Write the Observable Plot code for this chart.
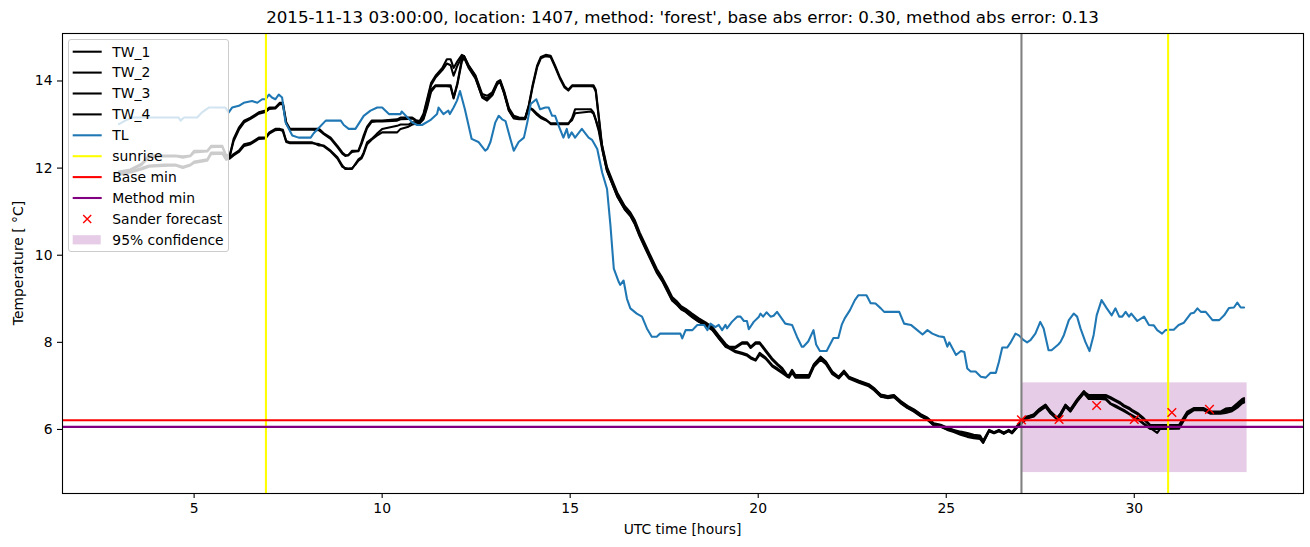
<!DOCTYPE html>
<html><head><meta charset="utf-8">
<script src="https://cdn.jsdelivr.net/npm/d3@7"></script>
<script src="https://cdn.jsdelivr.net/npm/@observablehq/plot@0.6"></script>
<style>
body{margin:0;background:#fff;}
#fig{position:relative;width:1310px;height:547px;font-family:"DejaVu Sans",sans-serif;color:#000;}
#title{position:absolute;left:62px;width:1241px;top:7px;line-height:20px;text-align:center;font-size:16.7px;white-space:nowrap;}
#xlabel{position:absolute;left:62px;width:1241px;top:520px;line-height:18px;text-align:center;font-size:13.9px;}
#ylabel{position:absolute;left:18px;top:263px;transform:translate(-50%,-50%) rotate(-90deg);font-size:13.9px;white-space:nowrap;}
#legend{position:absolute;left:68px;top:39px;width:161px;height:213px;box-sizing:border-box;border:1px solid #cccccc;border-radius:3px;background:rgba(255,255,255,0.8);}
#legend svg{position:absolute;left:0;top:0;}
</style></head>
<body><div id="fig"></div>
<script>
// ---------- data ----------
const title = "2015-11-13 03:00:00, location: 1407, method: 'forest', base abs error: 0.30, method abs error: 0.13";
const x_label = "UTC time [hours]";
const y_label = "Temperature [ °C]";
const x_ticks = [5, 10, 15, 20, 25, 30];
const y_ticks = [6, 8, 10, 12, 14];

const tw_t = [
3.0,3.3,3.6,3.8,4.2,4.5,4.7,4.9,5.0,5.35,
5.45,5.75,5.85,5.95,6.05,6.19,6.33,6.5,6.72,6.9,
7.0,7.16,7.28,7.36,7.45,7.55,8.14,8.32,8.45,8.63,
8.81,8.94,9.02,9.1,9.2,9.29,9.37,9.45,9.51,9.6,
9.72,9.85,10.0,10.4,10.49,10.7,10.8,10.9,11.0,11.1,
11.2,11.3,11.42,11.6,11.72,11.82,11.9,12.0,12.12,12.18,
12.3,12.48,12.66,12.79,12.93,13.06,13.14,13.24,13.37,13.5,
13.64,13.8,13.9,14.0,14.12,14.22,14.35,14.48,14.6,14.72,
14.85,14.95,15.05,15.13,15.55,15.62,15.68,15.76,15.85,15.9,
15.98,16.12,16.25,16.45,16.6,16.72,16.85,17.0,17.12,17.3,
17.45,17.58,17.71,17.85,17.95,18.07,18.24,18.42,18.6,18.78,
18.95,19.13,19.22,19.4,19.57,19.71,19.8,19.93,20.04,20.2,
20.37,20.51,20.64,20.77,20.82,20.9,20.99,21.35,21.48,21.66,
21.8,21.97,22.14,22.28,22.41,22.68,22.94,23.08,23.26,23.44,
23.61,23.79,23.97,24.14,24.32,24.5,24.67,24.85,25.03,25.2,
25.38,25.56,25.73,25.9,25.98,26.14,26.27,26.4,26.53,26.66,
26.75,26.9,27.02,27.15,27.33,27.46,27.64,27.77,27.95,28.04,
28.17,28.3,28.48,28.66,28.79,29.1,29.24,29.37,29.5,29.63,
29.72,29.86,29.94,30.08,30.25,30.43,30.61,30.7,31.19,31.41,
31.58,31.85,32.03,32.29,32.43,32.6,32.74,32.87,32.92];

const tw1 = [
11.92,11.97,12.10,12.29,12.29,12.29,12.27,12.29,12.40,12.40,
12.51,12.51,12.30,12.30,12.67,12.93,13.09,13.16,13.28,13.32,
13.39,13.39,13.50,13.50,13.05,12.90,12.90,12.90,12.80,12.70,
12.51,12.36,12.30,12.29,12.40,12.40,12.40,12.59,12.75,12.95,
13.09,13.09,13.09,13.12,13.16,13.16,13.16,13.10,13.08,13.25,
13.60,13.95,14.12,14.30,14.50,14.50,14.30,14.45,14.60,14.57,
14.34,14.11,13.66,13.58,13.70,13.96,14.00,13.75,13.35,13.16,
13.14,13.14,13.45,13.90,14.35,14.55,14.60,14.58,14.35,14.10,
13.88,13.80,13.90,13.90,13.90,13.90,13.80,13.20,12.50,12.29,
11.98,11.68,11.40,11.10,10.95,10.76,10.48,10.20,9.98,9.65,
9.45,9.23,9.00,8.90,8.80,8.74,8.62,8.51,8.43,8.32,
8.13,7.94,7.90,7.90,8.00,8.00,7.90,8.00,8.00,7.82,
7.63,7.51,7.41,7.25,7.25,7.37,7.25,7.25,7.50,7.67,
7.56,7.33,7.21,7.35,7.21,7.12,7.04,6.95,6.79,6.76,
6.79,6.64,6.53,6.45,6.34,6.26,6.12,6.10,6.03,5.99,
5.95,5.92,5.88,5.86,5.74,5.99,5.94,5.99,5.92,5.99,
5.94,6.10,6.20,6.30,6.34,6.45,6.56,6.41,6.26,6.36,
6.56,6.45,6.68,6.87,6.79,6.79,6.79,6.74,6.68,6.62,
6.56,6.50,6.45,6.38,6.26,6.10,6.10,6.10,6.10,6.41,
6.49,6.49,6.41,6.41,6.48,6.50,6.60,6.70,6.72];

const tw2 = [
11.89,11.95,12.07,12.25,12.27,12.27,12.24,12.27,12.36,12.38,
12.48,12.49,12.27,12.28,12.62,12.88,13.05,13.13,13.25,13.29,
13.36,13.37,13.47,13.46,13.02,12.88,12.88,12.87,12.78,12.67,
12.48,12.33,12.28,12.30,12.37,12.38,12.39,12.55,12.70,12.92,
13.06,13.07,13.07,13.09,13.12,13.13,13.14,13.08,13.06,13.22,
13.55,13.90,14.08,14.25,14.40,14.36,14.12,14.35,14.55,14.55,
14.32,14.08,13.62,13.55,13.67,13.93,13.97,13.72,13.32,13.14,
13.12,13.12,13.42,13.86,14.31,14.52,14.57,14.55,14.32,14.07,
13.85,13.78,13.88,13.88,13.88,13.87,13.76,13.15,12.46,12.25,
11.94,11.64,11.36,11.06,10.91,10.72,10.45,10.17,9.95,9.62,
9.42,9.20,8.97,8.87,8.77,8.71,8.59,8.48,8.40,8.29,
8.10,7.91,7.88,7.87,7.97,7.97,7.87,7.97,7.97,7.79,
7.60,7.48,7.38,7.23,7.22,7.34,7.22,7.22,7.47,7.64,
7.53,7.30,7.19,7.32,7.19,7.09,7.01,6.92,6.76,6.73,
6.76,6.61,6.50,6.42,6.31,6.23,6.10,6.07,6.00,5.96,
5.92,5.89,5.85,5.83,5.72,5.97,5.92,5.97,5.90,5.97,
5.92,6.07,6.17,6.27,6.31,6.42,6.53,6.38,6.24,6.33,
6.53,6.42,6.65,6.84,6.77,6.77,6.76,6.71,6.65,6.59,
6.53,6.47,6.42,6.35,6.23,6.08,6.07,6.07,6.07,6.38,
6.46,6.46,6.38,6.38,6.45,6.47,6.57,6.66,6.68];

const tw3 = [
11.87,11.92,12.00,12.06,12.08,12.08,12.03,12.08,12.15,12.20,
12.36,12.36,12.21,12.25,12.32,12.40,12.55,12.58,12.70,12.70,
12.82,12.90,12.90,12.88,12.62,12.59,12.59,12.52,12.52,12.40,
12.25,12.06,11.98,11.98,11.98,12.10,12.20,12.25,12.36,12.59,
12.67,12.78,12.90,12.97,13.00,13.00,13.05,13.05,13.05,13.15,
13.45,13.80,13.90,13.90,13.90,13.90,13.62,13.95,14.50,14.57,
14.36,14.13,13.70,13.66,13.74,13.98,14.02,13.78,13.38,13.20,
13.16,13.15,13.40,13.35,13.25,13.18,13.12,13.01,13.01,13.01,
13.01,13.01,13.15,13.35,13.35,13.28,13.12,12.90,12.52,12.33,
12.02,11.72,11.44,11.13,10.98,10.80,10.52,10.24,10.02,9.69,
9.48,9.27,9.04,8.93,8.83,8.77,8.66,8.55,8.46,8.35,
8.16,7.97,7.90,7.80,7.76,7.72,7.66,7.60,7.76,7.65,
7.48,7.40,7.32,7.24,7.21,7.33,7.21,7.21,7.48,7.65,
7.54,7.30,7.20,7.33,7.20,7.10,7.02,6.93,6.80,6.77,
6.78,6.65,6.54,6.46,6.35,6.27,6.14,6.11,6.04,5.98,
5.90,5.85,5.82,5.80,5.70,5.98,5.93,5.98,5.93,5.98,
5.93,6.09,6.19,6.28,6.35,6.46,6.57,6.42,6.27,6.37,
6.57,6.46,6.69,6.88,6.72,6.72,6.72,6.60,6.55,6.49,
6.45,6.37,6.33,6.26,6.14,6.03,5.92,6.03,6.05,6.37,
6.47,6.47,6.38,6.38,6.41,6.45,6.53,6.63,6.65];

const tw4 = [
11.84,11.90,11.97,12.03,12.05,12.06,12.00,12.06,12.12,12.17,
12.32,12.33,12.19,12.22,12.29,12.37,12.51,12.55,12.67,12.68,
12.79,12.87,12.88,12.85,12.60,12.57,12.57,12.55,12.50,12.38,
12.22,12.03,12.00,11.99,12.00,12.08,12.17,12.22,12.33,12.55,
12.65,12.74,12.82,12.82,12.90,12.95,13.00,13.02,13.03,13.12,
13.40,13.75,13.88,13.88,13.88,13.87,13.60,13.92,14.45,14.53,
14.30,14.06,13.64,13.60,13.70,13.94,13.98,13.74,13.33,13.16,
13.13,13.13,13.38,13.33,13.22,13.15,13.10,13.03,13.03,13.03,
13.03,13.03,13.10,13.26,13.30,13.25,13.10,12.85,12.44,12.24,
11.93,11.63,11.35,11.05,10.90,10.71,10.43,10.15,9.93,9.60,
9.40,9.18,8.96,8.85,8.76,8.70,8.58,8.47,8.39,8.28,
8.09,7.90,7.86,7.77,7.73,7.69,7.63,7.58,7.72,7.62,
7.45,7.37,7.29,7.21,7.19,7.30,7.19,7.19,7.44,7.60,
7.50,7.27,7.17,7.30,7.17,7.07,6.99,6.90,6.75,6.72,
6.74,6.60,6.49,6.41,6.30,6.22,6.09,6.06,5.99,5.94,
5.88,5.83,5.80,5.78,5.69,5.96,5.91,5.96,5.91,5.96,
5.91,6.06,6.16,6.25,6.30,6.41,6.52,6.37,6.23,6.32,
6.52,6.41,6.64,6.83,6.70,6.70,6.69,6.58,6.52,6.46,
6.42,6.35,6.31,6.24,6.12,6.01,6.01,6.01,6.02,6.34,
6.44,6.44,6.36,6.36,6.38,6.42,6.50,6.60,6.62];

const tl_t = [
3.0,3.17,3.35,4.59,4.64,4.73,5.08,5.21,5.39,5.83,
5.92,6.01,6.19,6.32,6.54,6.68,6.81,6.9,6.99,7.07,
7.16,7.25,7.34,7.43,7.61,7.78,8.1,8.18,8.5,8.9,
8.98,9.11,9.29,9.51,9.69,9.87,10.0,10.18,10.49,10.52,
10.8,10.93,11.06,11.28,11.46,11.5,11.63,11.76,11.8,11.9,
11.99,12.07,12.2,12.38,12.56,12.74,12.8,12.88,13.01,13.1,
13.19,13.28,13.41,13.5,13.63,13.77,13.86,13.95,14.1,14.2,
14.34,14.43,14.52,14.6,14.69,14.82,14.91,14.96,15.04,15.13,
15.31,15.49,15.58,15.72,15.85,15.98,16.07,16.16,16.29,16.33,
16.42,16.51,16.6,16.77,16.91,17.04,17.17,17.3,17.39,17.93,
17.98,18.07,18.25,18.38,18.56,18.65,18.73,18.86,18.95,19.04,
19.13,19.17,19.3,19.44,19.53,19.62,19.7,19.75,19.88,20.02,
20.06,20.13,20.22,20.33,20.41,20.5,20.59,20.72,20.9,21.03,
21.16,21.2,21.33,21.47,21.54,21.64,21.82,22.0,22.13,22.22,
22.3,22.44,22.57,22.66,22.88,22.99,23.12,23.26,23.35,23.75,
23.88,24.06,24.23,24.37,24.5,24.63,24.8,24.94,25.03,25.08,
25.26,25.39,25.48,25.56,25.65,25.78,25.92,26.05,26.18,26.32,
26.4,26.49,26.62,26.7,26.84,26.93,27.06,27.15,27.24,27.37,
27.5,27.59,27.72,27.8,27.98,28.04,28.13,28.26,28.39,28.48,
28.57,28.7,28.81,28.92,29.0,29.13,29.27,29.4,29.5,29.6,
29.68,29.77,29.86,29.92,30.08,30.26,30.39,30.52,30.61,30.74,
30.83,30.92,31.05,31.18,31.32,31.5,31.59,31.68,31.77,31.9,
32.08,32.26,32.39,32.52,32.65,32.74,32.83,32.92];

const tl_v = [
13.01,13.09,13.16,13.16,13.09,13.16,13.16,13.28,13.39,13.39,
13.28,13.39,13.43,13.5,13.54,13.5,13.58,13.58,13.69,13.62,
13.58,13.69,13.62,13.05,12.75,12.7,12.7,12.8,13.09,13.09,
12.99,12.9,12.9,13.2,13.32,13.39,13.39,13.24,13.24,13.3,
13.05,12.99,12.99,13.1,13.24,13.39,13.24,13.32,13.24,13.39,
13.55,13.77,13.35,12.67,12.6,12.4,12.44,12.6,13.05,13.2,
13.12,13.08,12.67,12.4,12.6,12.7,13.05,13.47,13.58,13.35,
13.39,13.39,13.2,13.2,12.98,12.7,12.9,12.7,12.82,12.7,
12.9,12.7,12.65,12.44,11.9,11.52,10.69,9.69,9.39,9.32,
9.42,9.0,8.78,8.66,8.59,8.32,8.13,8.13,8.2,8.2,
8.09,8.28,8.28,8.4,8.4,8.28,8.43,8.35,8.4,8.28,
8.4,8.32,8.47,8.59,8.59,8.49,8.49,8.3,8.47,8.59,
8.66,8.59,8.69,8.59,8.61,8.7,8.59,8.43,8.4,8.13,
7.9,7.9,8.02,8.28,7.95,7.8,7.8,8.1,8.1,8.4,
8.55,8.74,8.97,9.08,9.08,8.9,8.89,8.78,8.7,8.7,
8.43,8.4,8.28,8.18,8.28,8.2,8.14,8.12,7.9,8.0,
7.71,7.8,7.78,7.4,7.33,7.33,7.21,7.19,7.3,7.3,
7.55,7.88,7.88,7.98,8.2,8.16,8.05,8.0,8.05,8.2,
8.47,8.32,7.82,7.82,7.95,8.01,8.17,8.51,8.66,8.59,
8.32,8.01,7.8,8.17,8.62,8.97,8.78,8.62,8.78,8.59,
8.59,8.7,8.59,8.66,8.49,8.59,8.4,8.39,8.28,8.2,
8.28,8.29,8.29,8.4,8.45,8.66,8.68,8.78,8.7,8.7,
8.51,8.51,8.62,8.79,8.8,8.91,8.8,8.8];

const sunrise_x = [6.91, 30.9];
const obs_x = [27.0];
const base_min = [6.21];
const method_min = [6.06];
const fc_t = [27, 28, 29, 30, 31, 32];
const fc_v = [6.22, 6.23, 6.55, 6.23, 6.39, 6.46];
const conf_x = [27.0, 33.0];
const conf_y = [5.01, 7.07];
const legend_labels = ["TW_1","TW_2","TW_3","TW_4","TL","sunrise","Base min","Method min","Sander forecast","95% confidence"];

// ---------- build ----------
const series = (t, v) => d3.zip(t, v).map(([x, y]) => ({x, y}));
const twData = [tw1, tw2, tw3, tw4].map(v => series(tw_t, v));
const tlData = series(tl_t, tl_v);
const fcData = series(fc_t, fc_v);
const LW = 2.08;

const fig = document.getElementById("fig");
const chart = Plot.plot({
  width: 1310, height: 547,
  marginLeft: 62, marginRight: 7, marginTop: 33, marginBottom: 54,
  style: {fontFamily: "DejaVu Sans, sans-serif", fontSize: "13.9px", background: "white", color: "black"},
  x: {domain: [1.5, 34.5]},
  y: {domain: [4.53, 15.09]},
  marks: [
    Plot.rect([{x1: conf_x[0], x2: conf_x[1], y1: conf_y[0], y2: conf_y[1]}],
      {x1: "x1", x2: "x2", y1: "y1", y2: "y2", fill: "#800080", fillOpacity: 0.2}),
    ...twData.map(d => Plot.line(d, {x: "x", y: "y", stroke: "black", strokeWidth: LW})),
    Plot.line(tlData, {x: "x", y: "y", stroke: "#1f77b4", strokeWidth: LW}),
    Plot.ruleX(sunrise_x, {stroke: "yellow", strokeWidth: LW}),
    Plot.ruleX(obs_x, {stroke: "gray", strokeWidth: LW}),
    Plot.ruleY(base_min, {stroke: "red", strokeWidth: LW}),
    Plot.ruleY(method_min, {stroke: "purple", strokeWidth: LW}),
    Plot.dot(fcData, {x: "x", y: "y", symbol: "times", r: 4, stroke: "red", strokeWidth: 1.4}),
    Plot.axisX({ticks: x_ticks, tickSize: 5, tickPadding: 5, label: null, strokeWidth: 1.1}),
    Plot.axisY({ticks: y_ticks, tickSize: 5, tickPadding: 5, label: null, strokeWidth: 1.1}),
    Plot.frame({stroke: "black", strokeWidth: 1.1})
  ]
});
fig.appendChild(chart);

const t = document.createElement("div"); t.id = "title"; t.textContent = title; fig.appendChild(t);
const xl = document.createElement("div"); xl.id = "xlabel"; xl.textContent = x_label; fig.appendChild(xl);
const yl = document.createElement("div"); yl.id = "ylabel"; yl.textContent = y_label; fig.appendChild(yl);

// legend
const legStyle = [
  {kind: "line", color: "black"}, {kind: "line", color: "black"}, {kind: "line", color: "black"}, {kind: "line", color: "black"},
  {kind: "line", color: "#1f77b4"}, {kind: "line", color: "yellow"}, {kind: "line", color: "red"}, {kind: "line", color: "purple"},
  {kind: "marker", color: "red"}, {kind: "patch", color: "#800080"}
];
const leg = d3.select(fig).append("div").attr("id", "legend");
const lsvg = leg.append("svg").attr("width", 159).attr("height", 211);
legend_labels.forEach((lab, i) => {
  const cy = 11.7 + 20.9 * i;
  const st = legStyle[i];
  const g = lsvg.append("g");
  if (st.kind === "line") {
    g.append("line").attr("x1", 3.7).attr("x2", 32.7).attr("y1", cy).attr("y2", cy)
      .attr("stroke", st.color).attr("stroke-width", LW);
  } else if (st.kind === "marker") {
    const cx = 18.2, s = 4;
    g.append("path").attr("d", `M${cx-s},${cy-s}L${cx+s},${cy+s}M${cx-s},${cy+s}L${cx+s},${cy-s}`)
      .attr("stroke", st.color).attr("stroke-width", 1.4).attr("fill", "none");
  } else {
    g.append("rect").attr("x", 3.7).attr("y", cy - 4.6).attr("width", 28).attr("height", 9.2)
      .attr("fill", st.color).attr("fill-opacity", 0.2);
  }
  g.append("text").attr("x", 43.3).attr("y", cy).attr("dy", "0.35em")
    .attr("font-family", "DejaVu Sans, sans-serif").attr("font-size", "13.9px").attr("fill", "black").text(lab);
});
</script>
</body></html>
